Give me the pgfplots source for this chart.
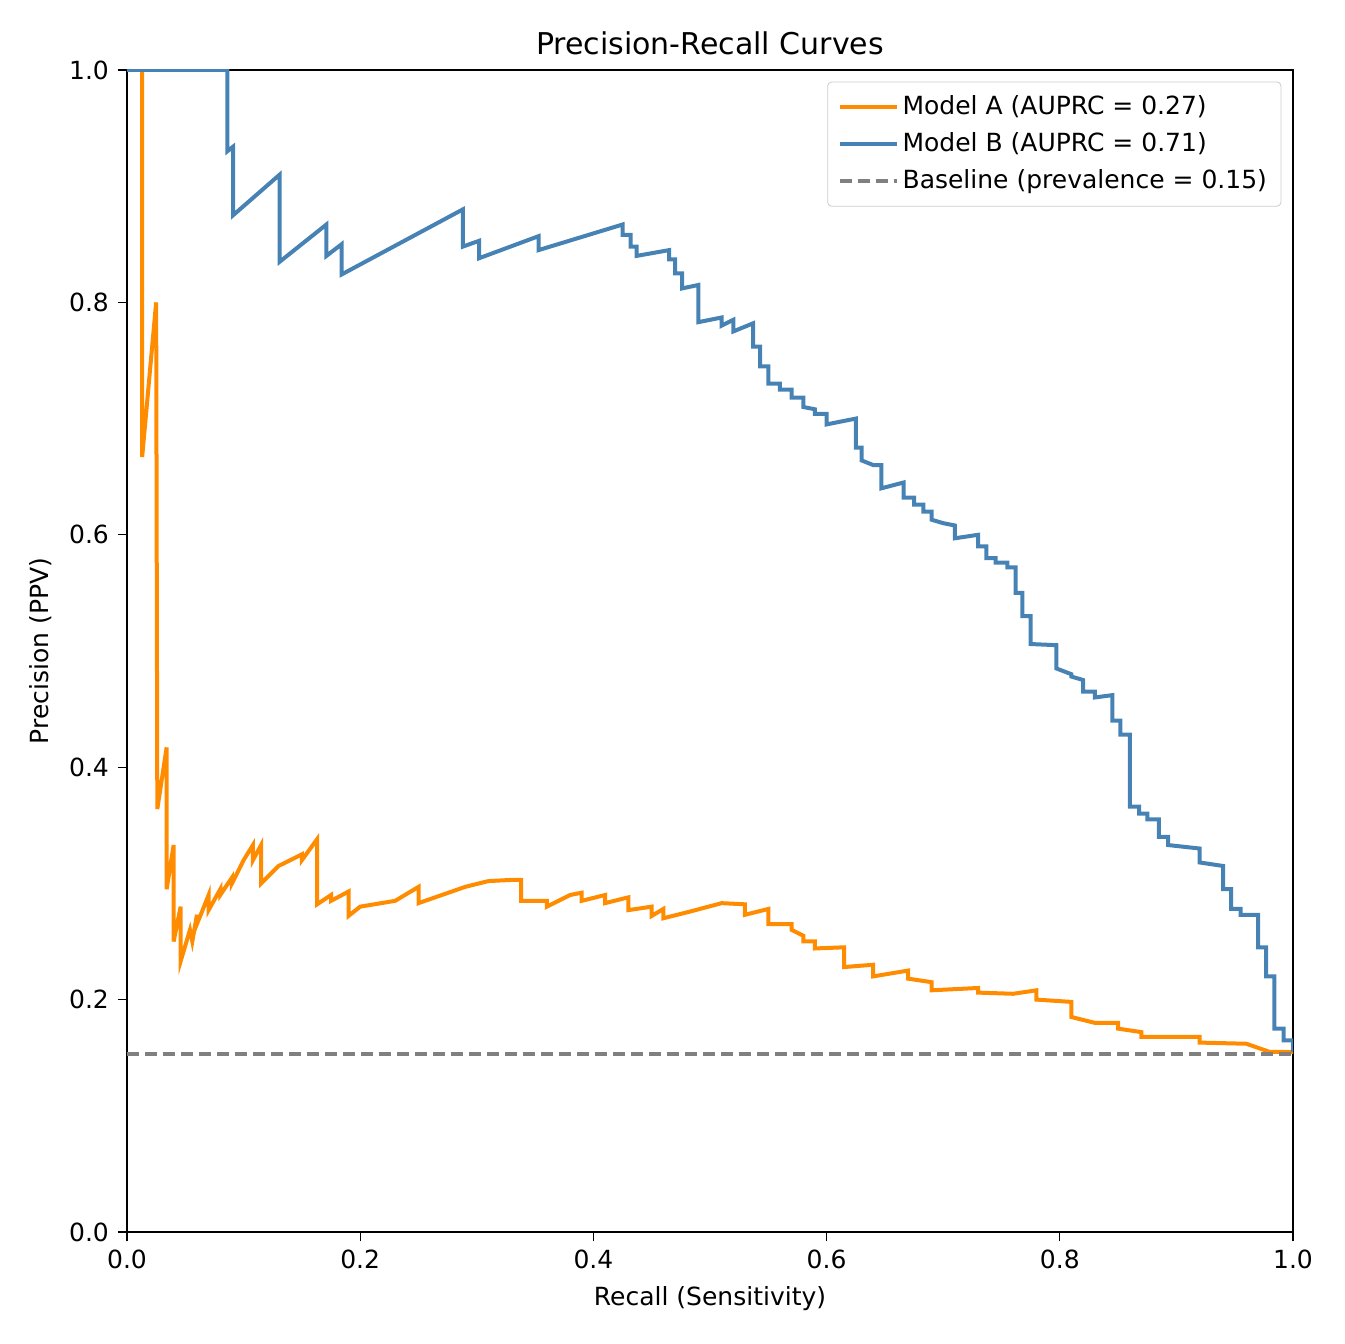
\documentclass[border=0pt]{standalone}
\usepackage{pgfplots}
\pgfplotsset{compat=1.18}
\usepackage{fontspec}
\setmainfont{DejaVu Sans}
\definecolor{cA}{HTML}{FF8C00}
\definecolor{cB}{HTML}{4682B4}
\begin{document}
\fontsize{12.5}{15}\selectfont
\begin{tikzpicture}
\useasboundingbox (-63.5pt,-56pt) rectangle (608.5pt,616pt);
\begin{axis}[
  at={(0,0)}, anchor=south west, scale only axis,
  width=583pt, height=581pt,
  xmin=0, xmax=1, ymin=0, ymax=1,
  xtick={0,0.2,...,1}, ytick={0,0.2,...,1},
  xtick pos=bottom, ytick pos=left,
  xticklabel style={/pgf/number format/.cd,fixed,fixed zerofill,precision=1},
  yticklabel style={/pgf/number format/.cd,fixed,fixed zerofill,precision=1},
  /pgf/number format/assume math mode=true,
  tick align=outside, major tick length=4.7pt, tick style={black, line width=0.53pt},
  axis line style={line width=0.53pt},
  ticklabel style={font=\fontsize{12.5}{15}\selectfont},
  label style={font=\fontsize{12.5}{15}\selectfont},
  xlabel={Recall (Sensitivity)}, ylabel={Precision (PPV)},
  title={Precision-Recall Curves}, title style={font=\fontsize{15}{18}\selectfont, yshift=-3pt},
  legend style={at={(0.99,0.99)}, anchor=north east, draw=black!20, rounded corners=2pt,
    font=\fontsize{12.5}{15}\selectfont, row sep=3pt, inner sep=5pt},
  legend cell align=left,
  legend image code/.code={\draw[#1] (0cm,0cm) -- (1cm,0cm);},
]
\addplot[cA, line width=2pt] coordinates {
(0.013,1) (0.013,0.667) (0.025,0.8) (0.026,0.364) (0.034,0.417) (0.034,0.295) (0.04,0.333) (0.04,0.25)
(0.046,0.28) (0.046,0.233) (0.054,0.26) (0.056,0.25) (0.06,0.273) (0.06,0.265) (0.07,0.29) (0.07,0.277)
(0.08,0.295) (0.08,0.29) (0.09,0.305) (0.09,0.3) (0.1,0.32) (0.108,0.333) (0.108,0.32) (0.115,0.333)
(0.115,0.3) (0.13,0.315) (0.15,0.325) (0.15,0.32) (0.163,0.338) (0.163,0.282) (0.175,0.29) (0.175,0.285)
(0.19,0.293) (0.19,0.272) (0.2,0.28) (0.23,0.285) (0.25,0.297) (0.25,0.283) (0.27,0.29) (0.29,0.297)
(0.31,0.302) (0.33,0.303) (0.338,0.303) (0.338,0.285) (0.36,0.285) (0.36,0.28) (0.38,0.29) (0.39,0.292)
(0.39,0.285) (0.41,0.29) (0.41,0.283) (0.43,0.288) (0.43,0.277) (0.45,0.28) (0.45,0.272) (0.46,0.278)
(0.46,0.27) (0.48,0.275) (0.51,0.283) (0.53,0.282) (0.53,0.273) (0.55,0.278) (0.55,0.265) (0.57,0.265)
(0.57,0.26) (0.58,0.255) (0.58,0.25) (0.59,0.25) (0.59,0.244) (0.615,0.245) (0.615,0.228) (0.64,0.23)
(0.64,0.22) (0.67,0.225) (0.67,0.218) (0.69,0.215) (0.69,0.208) (0.73,0.21) (0.73,0.206) (0.76,0.205)
(0.78,0.208) (0.78,0.2) (0.81,0.198) (0.81,0.185) (0.83,0.18) (0.85,0.18) (0.85,0.175) (0.87,0.172)
(0.87,0.168) (0.92,0.168) (0.92,0.163) (0.96,0.162) (0.98,0.155) (1,0.155)
};
\addlegendentry{Model A (AUPRC = 0.27)}
\addplot[cB, line width=2pt] coordinates {
(0,1) (0.086,1) (0.086,0.93) (0.091,0.934) (0.091,0.875) (0.131,0.91) (0.131,0.835) (0.171,0.867)
(0.171,0.84) (0.184,0.85) (0.184,0.824) (0.288,0.88) (0.288,0.848) (0.302,0.853) (0.302,0.838)
(0.353,0.857) (0.353,0.845) (0.425,0.867) (0.425,0.858) (0.432,0.858) (0.432,0.848) (0.437,0.848)
(0.437,0.84) (0.465,0.845) (0.465,0.837) (0.47,0.837) (0.47,0.825) (0.476,0.825) (0.476,0.812)
(0.49,0.815) (0.49,0.783) (0.51,0.787) (0.51,0.78) (0.52,0.785) (0.52,0.775) (0.537,0.782)
(0.537,0.762) (0.543,0.762) (0.543,0.745) (0.55,0.745) (0.55,0.73) (0.56,0.73) (0.56,0.725)
(0.57,0.725) (0.57,0.718) (0.58,0.718) (0.58,0.71) (0.59,0.708) (0.59,0.704) (0.6,0.704) (0.6,0.695)
(0.625,0.70) (0.625,0.675) (0.63,0.675) (0.63,0.664) (0.64,0.66) (0.647,0.66) (0.647,0.64)
(0.666,0.645) (0.666,0.632) (0.675,0.632) (0.675,0.626) (0.683,0.626) (0.683,0.62) (0.69,0.62)
(0.69,0.613) (0.70,0.61) (0.71,0.608) (0.71,0.597) (0.73,0.6) (0.73,0.59) (0.737,0.59) (0.737,0.58)
(0.745,0.58) (0.745,0.576) (0.755,0.576) (0.755,0.572) (0.762,0.572) (0.762,0.55) (0.768,0.55)
(0.768,0.53) (0.775,0.53) (0.775,0.506) (0.797,0.505) (0.797,0.485) (0.81,0.48) (0.81,0.478)
(0.82,0.475) (0.82,0.465) (0.83,0.465) (0.83,0.46) (0.845,0.462) (0.845,0.44) (0.852,0.44)
(0.852,0.428) (0.86,0.428) (0.86,0.366) (0.868,0.366) (0.868,0.36) (0.875,0.36) (0.875,0.355)
(0.885,0.355) (0.885,0.34) (0.893,0.34) (0.893,0.333) (0.92,0.33) (0.92,0.318) (0.94,0.315)
(0.94,0.295) (0.947,0.295) (0.947,0.278) (0.955,0.278) (0.955,0.273) (0.97,0.273) (0.97,0.245)
(0.977,0.245) (0.977,0.22) (0.984,0.22) (0.984,0.175) (0.992,0.175) (0.992,0.165) (1,0.165) (1,0.155)
};
\addlegendentry{Model B (AUPRC = 0.71)}
\addplot[gray, line width=2pt, dash pattern=on 6pt off 3pt] coordinates {(0,0.153) (1,0.153)};
\addlegendentry{Baseline (prevalence = 0.15)}
\end{axis}
\end{tikzpicture}
\end{document}
